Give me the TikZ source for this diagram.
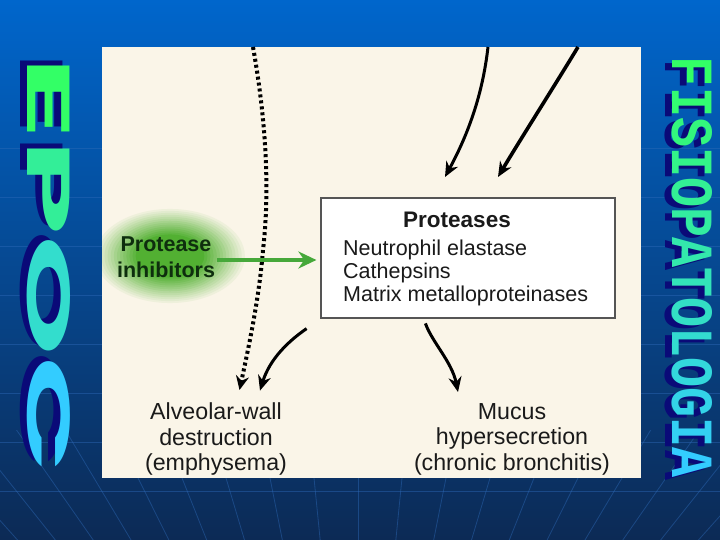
\documentclass[tikz,border=0pt]{standalone}
\usepackage{fontspec}
\usepackage{graphicx}
\setmainfont{Liberation Sans}
\newfontfamily\epocfont{Poppins}
\newfontfamily\fisiofont{Liberation Mono}
\usetikzlibrary{arrows.meta}
\definecolor{bgtop}{HTML}{0066CC}
\definecolor{bgbot}{HTML}{0C2A55}
\definecolor{gridc}{HTML}{2E6AB8}
\definecolor{cream}{HTML}{FAF5E8}
\definecolor{glowa}{HTML}{52B032}
\definecolor{gA}{HTML}{33FF66}
\definecolor{gB}{HTML}{33CCFF}
\definecolor{shad}{HTML}{0A0A78}
\definecolor{inkc}{HTML}{1A1A1A}
\definecolor{inhc}{HTML}{0E2E0E}
\definecolor{arrg}{HTML}{46A83A}
\definecolor{boxc}{HTML}{555555}
\newcommand{\epocbox}[1]{\resizebox{416pt}{43pt}{\epocfont\bfseries #1}}
\newcommand{\fisiobox}[1]{\resizebox{421pt}{40pt}{\fisiofont\bfseries #1}}
\begin{document}
\begin{tikzpicture}[x=1pt,y=-1pt,
  txt/.style={inner sep=0, font=\fontsize{21.5}{25}\selectfont, text=inkc},
  bot/.style={inner sep=0, align=center, font=\fontsize{23.2}{25.5}\selectfont, text=inkc},
  blk/.style={draw=black, line width=3pt, -{Stealth[length=15pt,width=13pt]}},
  dotarrow/.style={draw=black, line width=4pt, dash pattern=on 3pt off 3pt, -{Stealth[length=14pt,width=13pt]}},
  grnarrow/.style={draw=arrg, line width=3.5pt, -{Stealth[length=18pt,width=17pt]}},
  wordart/.style={rotate=-90, inner sep=0}]
\useasboundingbox (0,0) rectangle (720,540);
% background
\shade[top color=bgtop, bottom color=bgbot] (0,0) rectangle (720,540);
\begin{scope}[draw=gridc, line width=0.8pt, opacity=0.45]
  \foreach \yy in {148,197,246,295,344,393,442,491} \draw (0,\yy) -- (720,\yy);
  \begin{scope}
    \clip (0,430) rectangle (720,540);
    \foreach \k in {-12,...,12} \draw ({358+61.72*(\k)},300) -- ({358+37.83*(\k)},540);
  \end{scope}
\end{scope}
% word art
\node[wordart] (epocsh) at (41.5,260) {\epocbox{\color{shad}EPOC}};
\node[wordart] (epoc) at (48.5,265) {\epocbox{\color{gA}E\color{gB!33!gA}P\color{gB!67!gA}O\color{gB}C}};
\node[wordart] (fisiosh) at (685,270.5) {\fisiobox{\color{shad}FISIOPATOLOGIA}};
\node[wordart] (fisio) at (692,267.5) {\fisiobox{\color{gA}F\color{gB!8!gA}I\color{gB!15!gA}S\color{gB!23!gA}I\color{gB!31!gA}O\color{gB!38!gA}P\color{gB!46!gA}A\color{gB!54!gA}T\color{gB!62!gA}O\color{gB!69!gA}L\color{gB!77!gA}O\color{gB!85!gA}G\color{gB!92!gA}I\color{gB}A}};
% panel
\node[fill=cream, inner sep=0, minimum width=539pt, minimum height=431pt] (panel) at (371.5,262.5) {};
\begin{scope}
  \clip (102,47) rectangle (641,478);
  \foreach \i in {0,...,24} {
    \pgfmathsetmacro\f{1-\i/25}
    \pgfmathtruncatemacro\p{min(100,\i*100/14)}
    \fill[glowa!\p!cream] (170,256) ellipse [x radius={78*\f}, y radius={49*\f}];
  }
\end{scope}
% dotted arrow
\coordinate (d0) at (253,47);
\coordinate (dm) at (263,250);
\coordinate (dtip) at (239.5,390);
\draw[dotarrow] (d0) .. controls (266,120) and (270,190) .. (dm) .. controls (259,300) and (248,350) .. (dtip);
% protease inhibitors
\node[inner sep=0, align=center, text=inhc, font=\bfseries\fontsize{21.5}{25.5}\selectfont] (inh) at (166,257) {Protease\\inhibitors};
% proteases box
\node[draw=boxc, line width=1.2pt, fill=white, inner sep=0, minimum width=294pt, minimum height=120pt] (prot) at (468,258) {};
\node[txt, font=\bfseries\fontsize{22.5}{25}\selectfont, anchor=base] (ptitle) at (457,228) {Proteases};
\node[txt, anchor=base west] (p1) at (343,255) {Neutrophil elastase};
\node[txt, anchor=base west] (p2) at (343,278) {Cathepsins};
\node[txt, anchor=base west] (p3) at (343,301) {Matrix metalloproteinases};
% green arrow
\coordinate (gs) at (217,260);
\draw[grnarrow, shorten >=4pt] (gs) -- (prot.west |- gs);
% top arrows
\coordinate (t1) at (488,47);
\coordinate (t1e) at (445,177);
\draw[blk] (t1) .. controls (482,100) and (465,140) .. (t1e);
\coordinate (t2) at (578,47);
\coordinate (t2e) at (498,177);
\draw[blk, line width=3.6pt] (t2) .. controls (555,85) and (520,140) .. (t2e);
% bottom outputs
\node[bot] (alv) at (216,439) {Alveolar-wall\\destruction\\(emphysema)};
\node[bot] (muc) at (512,439) {Mucus\\hypersecretion\\(chronic bronchitis)};
\coordinate (b1) at (306.6,328.6);
\coordinate (b1e) at (260,390.6);
\draw[blk] (b1) .. controls (290,340) and (270,358) .. (b1e);
\coordinate (b2) at (425.4,323.4);
\coordinate (b2e) at (458,392);
\draw[blk] (b2) .. controls (432,342) and (452,362) .. (b2e);
\end{tikzpicture}
\end{document}
